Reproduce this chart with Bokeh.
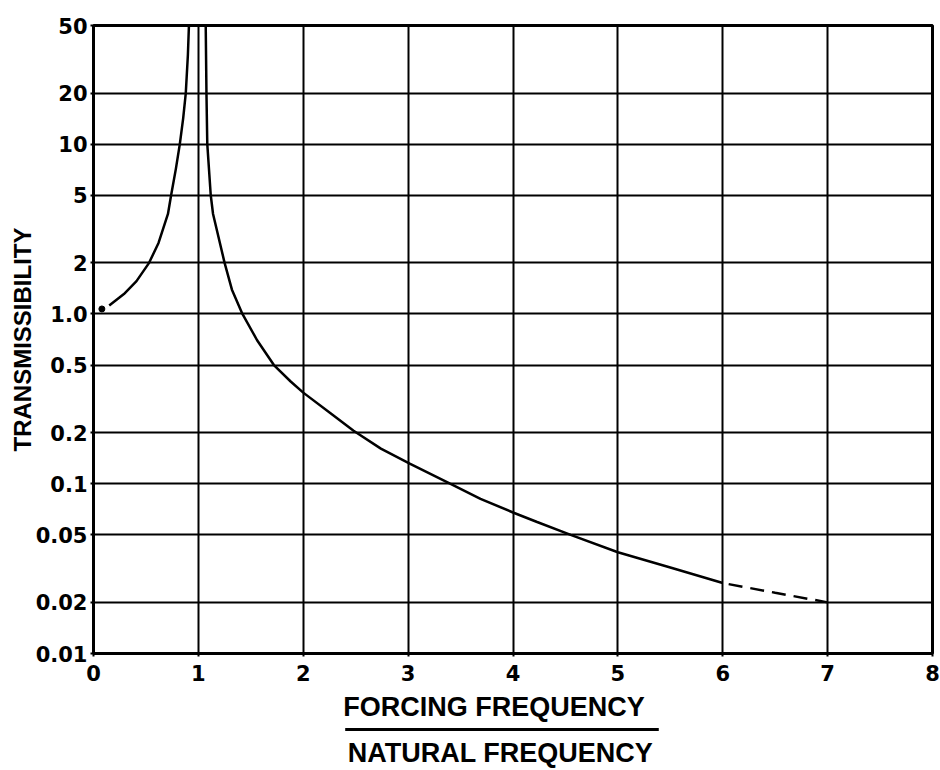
from bokeh.plotting import figure
from bokeh.models import Range1d, FixedTicker
from bokeh.layouts import column
from bokeh.core.properties import value
from bokeh.embed import file_html
from bokeh.resources import INLINE

# ---- data ----
x_ticks = [0, 1, 2, 3, 4, 5, 6, 7, 8]
y_ticks = [0.01, 0.02, 0.05, 0.1, 0.2, 0.5, 1, 2, 5, 10, 20, 50]
y_tick_labels = ["0.01", "0.02", "0.05", "0.1", "0.2", "0.5", "1.0", "2", "5", "10", "20", "50"]

# rising branch below resonance
below_x = [0.15, 0.29, 0.41, 0.53, 0.62, 0.71, 0.74, 0.785, 0.823, 0.855, 0.88, 0.90, 0.91]
below_y = [1.12, 1.31, 1.56, 2.0, 2.62, 3.88, 5.0, 7.13, 10.0, 14.2, 20.0, 33.5, 50.0]
start_x = [0.08]
start_y = [1.07]

# falling branch above resonance (solid)
above_x = [1.07, 1.077, 1.085, 1.118, 1.14, 1.25, 1.32, 1.42, 1.56, 1.72, 1.88, 2.0,
           2.26, 2.48, 2.74, 3.02, 3.4, 3.69, 4.0, 4.23, 4.55, 5.0, 5.5, 6.0]
above_y = [50.0, 20.0, 10.0, 5.0, 3.88, 2.0, 1.39, 1.0, 0.70, 0.5, 0.40, 0.344,
           0.26, 0.205, 0.161, 0.131, 0.1, 0.0815, 0.0677, 0.0595, 0.05, 0.0395, 0.0321, 0.026]

# extrapolated part (dashed)
dashed_x = [6.0, 6.5, 7.0]
dashed_y = [0.026, 0.0228, 0.020]

x_label_top = "FORCING FREQUENCY"
x_label_bottom = "NATURAL FREQUENCY"
y_label = "TRANSMISSIBILITY"

tick_font = "DejaVu Sans"
title_font = "Liberation Sans"

# ---- main chart ----
p = figure(width=940, height=690,
           x_range=Range1d(0, 8), y_range=Range1d(0.01, 50), y_axis_type="log",
           output_backend="svg", toolbar_location=None,
           min_border_left=93, min_border_right=8, min_border_top=25, min_border_bottom=37)

p.background_fill_color = "white"
p.border_fill_color = "white"
p.outline_line_color = "black"
p.outline_line_width = 3

p.xaxis.ticker = FixedTicker(ticks=x_ticks)
p.yaxis.ticker = FixedTicker(ticks=y_ticks)
p.yaxis.major_label_overrides = {t: s for t, s in zip(y_ticks, y_tick_labels)}

p.xgrid.ticker = FixedTicker(ticks=x_ticks)
p.ygrid.ticker = FixedTicker(ticks=y_ticks)
p.grid.grid_line_color = "black"
p.grid.grid_line_width = 2
p.grid.grid_line_alpha = 1.0

for ax in (p.xaxis, p.yaxis):
    ax.axis_line_color = "black"
    ax.axis_line_width = 3
    ax.major_tick_line_color = "black"
    ax.major_tick_line_width = 2
    ax.major_tick_in = 0
    ax.major_tick_out = 3
    ax.minor_tick_line_color = None
    ax.major_label_text_font = tick_font
    ax.major_label_text_font_style = "bold"
    ax.major_label_text_font_size = "21px"
    ax.major_label_text_color = "black"

p.xaxis.major_label_standoff = 8
p.yaxis.major_label_standoff = 3

p.yaxis.axis_label = y_label
p.yaxis.axis_label_text_font = title_font
p.yaxis.axis_label_text_font_style = "bold"
p.yaxis.axis_label_text_font_size = "24px"
p.yaxis.axis_label_text_color = "black"
p.yaxis.axis_label_standoff = -3

p.scatter(start_x, start_y, size=6, color="black")
p.line(below_x, below_y, line_color="black", line_width=2.5)
p.line(above_x, above_y, line_color="black", line_width=2.5)
p.line(dashed_x, dashed_y, line_color="black", line_width=2.5, line_dash="14 8", line_dash_offset=-6)

# ---- x-axis title as a fraction (its frame lines up with the chart's frame) ----
q = figure(width=940, height=80, x_range=Range1d(0, 8), y_range=Range1d(0, 80),
           x_axis_location=None, y_axis_location=None, min_border=0,
           min_border_left=93, min_border_right=8,
           output_backend="svg", toolbar_location=None)
q.outline_line_color = None
q.grid.visible = False
q.background_fill_color = "white"
q.border_fill_color = "white"

q.text(x=[3.82], y=[64], text=[x_label_top], text_align="center", text_baseline="alphabetic",
       text_font=value(title_font), text_font_style="bold", text_font_size="27px", text_color="black")
q.line(x=[2.40, 5.39], y=[41, 41], line_color="black", line_width=3)
q.text(x=[3.88], y=[18], text=[x_label_bottom], text_align="center", text_baseline="alphabetic",
       text_font=value(title_font), text_font_style="bold", text_font_size="27px", text_color="black")

layout = column(p, q, spacing=0)

open("out.html", "w").write(file_html(layout, INLINE))
